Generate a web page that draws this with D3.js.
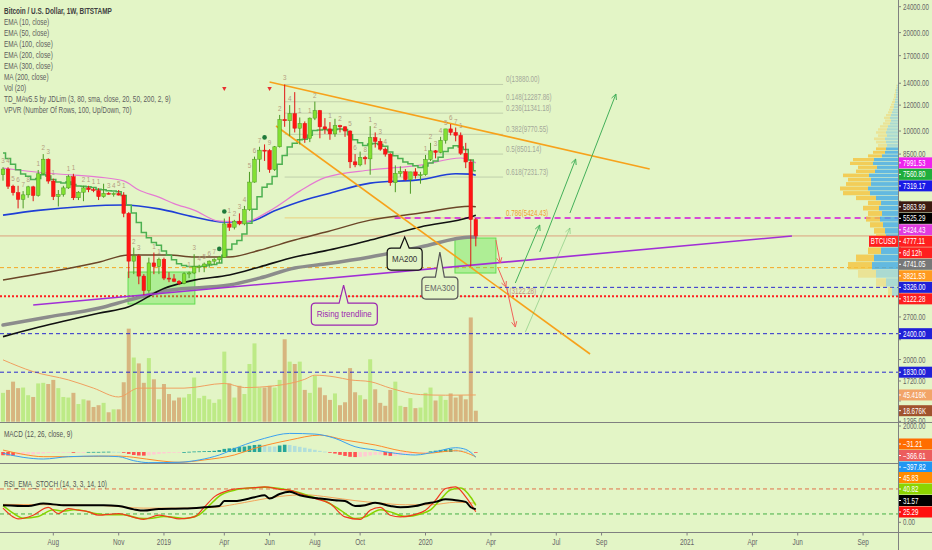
<!DOCTYPE html>
<html lang="en">
<head>
<meta charset="UTF-8">
<title>BTCUSD 1W</title>
<style>
  body { margin: 0; background: #e3f5c6; }
  svg { display: block; font-family: "Liberation Sans", Arial, sans-serif; }
</style>
</head>
<body>
<script src="https://d3js.org/d3.v7.min.js"></script>
<div id="chart"></div>
<script>
// ---- data (weekly candles, first bar = week of 2018-05-28) ----
var weekStart = "2018-05-28";
var opens  = [7350,7650,6780,6480,6180,6380,6750,6350,7400,8200,7030,6300,6400,6700,7250,6250,6500,6700,6620,6580,6300,6450,6420,6440,6370,5600,4000,4150,3600,3250,3950,3850,4050,3550,3530,3470,3420,3660,3680,3850,3860,3920,4000,4040,4110,5200,5080,5300,5200,5750,6980,8200,8740,8720,7620,8950,10850,10750,11300,10200,10550,9500,10950,11550,10300,10150,9800,10380,10300,10000,8050,7880,8300,8220,9550,9300,8800,8500,6950,7420,7510,7100,7500,7300,7350,8180,8700,8600,9370,10150,9900,9700,8550,8040,5360];
var highs  = [7750,7750,6850,6800,6550,6800,6800,7600,8500,8250,7150,6600,6800,7350,7400,6550,6800,6800,6700,6680,6900,6500,6500,6600,6500,5650,4400,4200,3650,4100,4250,4100,4100,3700,3650,3500,3700,3720,4200,3900,3960,4020,4080,4150,5400,5470,5350,5600,5900,7500,8350,8950,9100,8800,9000,11200,13880,12000,13150,11000,10700,11000,12300,11600,10950,10650,10900,10450,10350,10050,8500,8650,8400,10350,9900,9500,8900,8550,7850,7800,7650,7500,7700,7500,8450,9200,8750,9600,10150,10500,10250,9900,9200,8180,5420];
var lows   = [7050,6650,6350,5800,5800,6250,6100,6300,7350,6900,6150,5880,6300,6650,6150,6150,6100,6500,6500,6150,6250,6400,6300,6350,5450,3550,3650,3400,3150,3200,3650,3650,3500,3450,3450,3380,3400,3550,3650,3700,3700,3820,3900,3950,4100,4950,5000,5150,5150,5700,6950,7500,8100,7450,7550,8900,10300,9650,9900,9100,9200,9250,10800,9500,9800,9400,9600,9900,9600,7700,7750,7800,7900,7350,8900,8700,8350,6800,6500,7250,7050,6430,7150,6900,7300,8100,8250,8550,9150,9700,9300,8450,7700,3850,4440];
var closes = [7650,6780,6480,6180,6380,6750,6350,7400,8200,7030,6300,6400,6700,7250,6250,6500,6700,6620,6580,6300,6450,6420,6440,6370,5600,4000,4150,3600,3250,3950,3850,4050,3550,3530,3470,3420,3660,3680,3850,3860,3920,4000,4040,4110,5200,5080,5300,5200,5750,6980,8200,8740,8720,7620,8950,10850,10750,11300,10200,10550,9500,10950,11550,10300,10150,9800,10380,10300,10000,8050,7880,8300,8220,9550,9300,8800,8500,6950,7420,7510,7100,7500,7300,7350,8180,8700,8600,9370,10150,9900,9700,8550,8040,5360,4777.11];
// weekly volume, thousands of BTC
var volumes = [49,54,68,57,58,45,42,65,66,64,71,57,42,41,49,30,38,36,25,28,32,16,21,21,67,158,109,99,66,108,72,38,64,47,36,41,41,47,75,40,44,38,32,38,119,65,41,61,47,98,133,58,58,61,58,71,140,102,98,102,54,49,78,58,45,37,48,28,33,91,50,45,38,106,55,32,27,54,68,27,25,40,23,24,49,58,36,44,37,48,41,45,38,177,18.676];
var volMA = [[0,105],[6,85],[13,71],[18,57],[23,42],[27,57],[36,57],[44,65],[48,58],[54,61],[60,72],[62,79],[66,76],[69,71],[73,68],[77,57],[83,46],[88,45],[94,45.416]];

// moving averages ([week index, price])
var ema10 = [8560,8240,7920,7610,7390,7270,7110,7160,7350,7290,7110,6980,6930,6990,6860,6790,6780,6750,6720,6640,6610,6570,6550,6520,6350,5930,5610,5250,4890,4720,4560,4470,4300,4170,4040,3930,3880,3850,3850,3850,3860,3890,3910,3950,4170,4340,4510,4630,4840,5220,5760,6290,6730,6890,7260,7910,8420,8940,9170,9410,9430,9700,10040,10080,10100,10040,10100,10140,10110,9740,9410,9210,9030,9120,9160,9090,8990,8620,8400,8240,8040,7940,7830,7740,7820,7980,8090,8320,8650,8870,9020,8940,8780,8160,7560.80];
var ema50  = [[0,7700],[3,7600],[11,7390],[19,7230],[24,7040],[27,6600],[31,6280],[34,6000],[38,5730],[43,5300],[48,5270],[53,5700],[59,6550],[64,7200],[73,7600],[83,7870],[91,8270],[94,7991.53]];
var ema100 = [[0,5530],[7,5720],[16,5880],[24,5940],[31,5780],[38,5460],[44,5270],[49,5290],[54,5700],[60,6150],[65,6450],[73,6930],[83,7100],[90,7400],[93,7380],[94,7319.17]];
var ema200 = [[0,3500],[11,3750],[19,3970],[25,4180],[33,4180],[38,4120],[45,4120],[51,4320],[58,4640],[64,4900],[73,5340],[83,5610],[93,5890],[94,5863.99]];
var ma200  = [[0,2350],[7,2510],[19,2770],[25,2900],[32,3300],[38,3500],[45,3630],[51,3840],[58,4120],[64,4300],[73,4640],[83,5090],[93,5460],[94,5525.29]];
var ema300 = [[0,2550],[9,2700],[19,2870],[25,3040],[33,3260],[45,3380],[51,3550],[58,3810],[64,3920],[73,4120],[83,4420],[93,4740],[94,4741.05]];

// MACD pane
var macdLine = [[0,-100],[4,-410],[8,-540],[13,-360],[19,-310],[23,-360],[26,-670],[29,-820],[35,-790],[39,-610],[43,-230],[47,410],[52,1050],[57,1430],[62,1380],[66,1050],[70,410],[74,150],[78,-100],[82,-230],[86,25],[90,330],[92,200],[94,-397.82]];
var macdSignal = [[0,150],[4,-180],[8,-360],[13,-360],[23,-310],[26,-410],[31,-670],[35,-790],[40,-610],[46,-230],[50,280],[57,920],[63,1300],[68,920],[74,540],[79,100],[84,-100],[90,100],[94,-366.61]];
var macdHist = [-250,-270,-280,-260,-230,-200,-190,-150,-120,-80,-60,-40,-20,-10,-20,-15,-10,5,10,10,20,25,20,10,-40,-150,-230,-270,-280,-260,-200,-150,-110,-80,-50,-20,0,20,40,50,60,70,90,150,240,280,320,380,420,480,540,560,520,430,420,500,560,540,470,400,330,250,170,90,30,-20,-120,-220,-300,-370,-390,-380,-340,-270,-220,-210,-250,-300,-290,-250,-200,-160,-120,-60,-10,50,100,160,210,230,220,170,100,30,-31.21];

// RSI / stochastic pane
var rsiLine = [[0,41],[5,39],[8,45],[12,41],[20,41],[23,39],[26,31],[28,28],[31,32],[36,33],[40,36],[43,39],[44,51],[46,51],[50,60],[52,65],[53,57],[55,68],[57,73],[59,65],[61,60],[63,57],[66,53],[68,51],[70,39],[72,41],[74,47],[77,39],[79,36],[82,39],[84,45],[86,49],[88,55],[90,53],[92,49],[93,36],[94,31.57]];
var rsiEma = [[0,43],[10,42],[20,40],[28,34],[36,34],[42,36],[46,43],[50,52],[55,62],[60,66],[65,60],[70,52],[75,46],[80,42],[85,42],[90,48],[94,45.83]];
var stochK = [[0,34],[2,13],[3,8],[6,17],[9,36],[11,21],[13,33],[15,29],[17,25],[19,17],[23,21],[26,12],[28,7],[31,17],[33,13],[35,8],[38,13],[40,36],[42,61],[45,77],[47,81],[50,83],[52,85],[55,79],[57,77],[59,69],[62,57],[65,45],[68,13],[71,7],[73,29],[75,36],[77,17],[79,13],[82,19],[84,29],[86,53],[88,81],[90,85],[92,61],[94,25.29]];
var stochD = [[0,40],[2,22],[4,10],[7,14],[10,30],[12,27],[14,30],[16,28],[18,22],[21,18],[24,18],[27,10],[29,9],[32,14],[34,12],[36,9],[39,18],[41,40],[43,63],[46,77],[49,82],[52,84],[55,81],[58,74],[61,63],[64,51],[67,30],[70,9],[72,13],[75,30],[77,25],[80,14],[83,20],[85,30],[87,55],[89,78],[91,82],[93,60],[94,40.82]];

// volume profile (50 rows, 3122.28 .. 13880), up / down volume
var vpUp   = [6,12,22,26,24,17,13,12,13,15,18,16,19,17,22,28,30,27,27,29,23,21,25,24,16,13,12,11,12,13,11,12,11,10,8,7,8,7,6,5,4,4,3,3,2,2,2,2,1,1];
var vpDown = [4,10,18,24,18,13,12,10,11,13,14,14,16,13,20,27,28,25,23,26,19,19,23,21,14,12,10,9,10,11,9,10,9,8,7,6,6,5,4,4,4,3,3,2,2,2,1,1,1,1];

// drawings
var fibLabels = ["0", "0.148", "0.236", "0.382", "0.5", "0.618", "0.786", "1"];
var fibPrices = [13880.00, 12287.86, 11341.18, 9770.55, 8501.14, 7231.73, 5424.43, 3122.28];
var fibSpan = ["2019-06-24", "2020-04-23"];
var levelPrices = [3821.53, 3122.28, 2400.00, 1830.00, 3326.00, 5424.43];
var levelStarts = [null, null, null, null, "2020-03-08", "2019-11-24"];
var trendUpper = [["2019-06-03", 14120], ["2020-11-13", 7650]];
var trendLower = [["2019-06-12", 10360], ["2020-08-22", 2080]];
var trendRising = [["2018-07-09", 2937], ["2021-05-30", 4774]];
var zones = [[["2018-11-18", 3705], ["2019-02-19", 2957]], [["2020-02-16", 4707], ["2020-04-13", 3679]]];
var arrowsRed = [[["2020-04-13", 4641], ["2020-04-19", 3947]], [["2020-04-16", 3810], ["2020-04-27", 3333]], [["2020-04-28", 3310], ["2020-05-10", 2515]]];
var arrowsGreen = [[["2020-05-10", 3430], ["2020-06-13", 5158]], [["2020-06-13", 4270], ["2020-08-02", 8210]], [["2020-07-25", 5613], ["2020-09-27", 12977]]];
var arrowFaint = [["2020-05-24", 2428], ["2020-07-25", 5050]];
var calloutText = ["MA200", "EMA300", "Rising trendline"];
var calloutTip = [["2019-12-08", 4740], ["2020-01-26", 4265], ["2019-09-14", 3380]];
var calloutBox = [["2019-12-08", 4060], ["2020-01-26", 3310], ["2019-09-15", 2756]];
var tdCounts = [[0,"3"],[1,"4"],[2,"5"],[3,"6"],[4,"7"],[5,"8"],[7,"1"],[8,"2"],[9,"3"],[10,"1"],[13,"1"],[14,"1"],[16,"2"],[17,"1"],[18,"1"],[19,"1"],[21,"3"],[22,"4"],[23,"5"],[24,"1"],[26,"2"],[27,"3"],[30,"1"],[31,"1"],[37,"1"],[38,"3"],[39,"4"],[40,"5"],[41,"6"],[42,"7"],[45,"1"],[46,"2"],[47,"3"],[48,"4"],[49,"5"],[50,"6"],[51,"7"],[53,"9"],[55,"2"],[56,"3"],[57,"4"],[59,"1"],[61,"1"],[62,"2"],[65,"1"],[67,"2"],[69,"5"],[70,"6"],[72,"8"],[73,"1"],[74,"2"],[75,"3"],[76,"4"],[84,"1"],[85,"2"],[86,"3"],[87,"4"],[88,"5"],[89,"6"],[90,"7"],[91,"1"]];
var tdDots = [43, 44, 52];
var tdArrows = [44, 53];

// axes
var priceTicks = [24000,20000,17000,14000,12000,10000,8500,7200,6100,5200,4400,3700,3200,2700,2300,2000,1720,1495,1295];
var timeTickDates = ["2018-08-06","2018-11-05","2019-01-07","2019-04-01","2019-06-03","2019-08-05","2019-10-07","2020-01-06","2020-04-06","2020-07-06","2020-09-07","2021-01-04","2021-04-05","2021-06-07","2021-09-06"];
var timeTickLabels = ["Aug","Nov","2019","Apr","Jun","Aug","Oct","2020","Apr","Jul","Sep","2021","Apr","Jun","Sep"];
var legendLines = ["Bitcoin / U.S. Dollar, 1W, BITSTAMP","EMA (10, close)","EMA (50, close)","EMA (100, close)","EMA (200, close)","EMA (300, close)","MA (200, close)","Vol (20)","TD_MAv5.5 by JDLim (3, 80, sma, close, 20, 50, 200, 2, 9)","VPVR (Number Of Rows, 100, Up/Down, 70)"];

// ---- layout ----
var W = 932, H = 550, axisX = 898;
var bg = "#e3f5c6";
var squeeze = 0.73;   // the chart's UI font is a narrow face
var fmt = d3.format(".2f");
var last = function(a){ var v = a[a.length-1]; return Array.isArray(v) ? v[1] : v; };

var x = d3.scaleUtc().domain([new Date("2018-08-06"), new Date("2021-09-06")]).range([53.3, 863.1]);
var y = d3.scaleLog().domain([1295, 24000]).range([421.3, 6.7]);
var yVol = d3.scaleLinear().domain([0, 180]).range([421.7, 315.7]);
var yMacd = d3.scaleLinear().domain([-846, 2308]).range([463, 422]);
var yRsi = d3.scaleLinear().domain([0, 100]).range([522.3, 480.6]);
var dAt = function(i){ return d3.utcDay.offset(new Date(weekStart), 7*i); };
var xi = function(i){ return x(dAt(i)); };
var xd = function(s){ return x(new Date(s)); };

// narrow text helper
function txt(g, tx, ty, str, size, color, anchor, sx) {
  return g.append("text")
    .attr("transform", "translate(" + tx + "," + ty + ") scale(" + (sx || squeeze) + ",1)")
    .attr("font-size", size).attr("fill", color).attr("text-anchor", anchor || "start").text(str);
}

var svg = d3.select("#chart").append("svg").attr("width", W).attr("height", H);
svg.append("rect").attr("width", W).attr("height", H).attr("fill", bg);
var defs = svg.append("defs");
defs.append("clipPath").attr("id", "cMain").append("rect").attr("width", axisX).attr("height", 422);
defs.append("clipPath").attr("id", "cMainAxis").append("rect").attr("x", axisX).attr("width", W - axisX).attr("height", 422);
defs.append("clipPath").attr("id", "cMacd").append("rect").attr("y", 422.5).attr("width", axisX).attr("height", 41);
defs.append("clipPath").attr("id", "cRsi").append("rect").attr("y", 463.5).attr("width", axisX).attr("height", 69);

var gMain = svg.append("g").attr("clip-path", "url(#cMain)");

var levelStyles = [
  {c:"#f5a623", w:1, d:"4,3"},
  {c:"#ff1f1f", w:2, d:"2,2"},
  {c:"#2b2bd0", w:1, d:"4,3"},
  {c:"#2b2bd0", w:1, d:"4,3"},
  {c:"#2b2bd0", w:1, d:"4,3"},
  {c:"#d64ad6", w:2, d:"6,4"}
];

// fib retracement
fibPrices.forEach(function(p, k){
  gMain.append("line").attr("x1", xi(56)).attr("x2", xd(fibSpan[1]))
    .attr("y1", y(p)).attr("y2", y(p))
    .attr("stroke", k == 6 ? "rgba(245,160,40,0.45)" : "rgba(130,140,120,0.35)").attr("stroke-width", 1);
  txt(gMain, xd(fibSpan[1]) + 3, y(p) - 2, fibLabels[k] + "(" + fmt(p) + ")", 8.5,
    k == 6 ? "#f0a030" : (k == 7 ? "#c09080" : "#a4a89a"));
});

// volume bars + MA
gMain.selectAll(".vol").data(volumes).enter().append("rect")
  .attr("x", function(d,i){ return xi(i) - 2; })
  .attr("y", function(d){ return yVol(d); })
  .attr("width", 4)
  .attr("height", function(d){ return yVol(0) - yVol(d); })
  .attr("fill", function(d,i){ return closes[i] >= opens[i] ? "#bdea86" : "#d7b57f"; });
gMain.append("path").datum(volMA)
  .attr("d", d3.line().x(function(d){ return xi(d[0]); }).y(function(d){ return yVol(d[1]); }).curve(d3.curveMonotoneX))
  .attr("fill", "none").attr("stroke", "#f0a060").attr("stroke-width", 1);

levelPrices.forEach(function(p, k){
  var s = levelStyles[k];
  gMain.append("line").attr("x1", levelStarts[k] ? xd(levelStarts[k]) : 0).attr("x2", axisX)
    .attr("y1", y(p)).attr("y2", y(p))
    .attr("stroke", s.c).attr("stroke-width", s.w).attr("stroke-dasharray", s.d);
});
gMain.append("line").attr("x1", 0).attr("x2", axisX)
  .attr("y1", y(last(closes))).attr("y2", y(last(closes)))
  .attr("stroke", "#dca27e").attr("stroke-width", 1);

// zones
zones.forEach(function(z){
  var x0 = xd(z[0][0]), x1 = xd(z[1][0]), y0 = y(z[0][1]), y1 = y(z[1][1]);
  gMain.append("rect").attr("x", x0).attr("y", y0).attr("width", x1 - x0).attr("height", y1 - y0)
    .attr("fill", "rgba(90,225,70,0.38)").attr("stroke", "#62dc50").attr("stroke-width", 1);
});

// volume profile
var vpStep = (13880 - 3122.28) / vpUp.length;
var vpTot = vpUp.map(function(u,k){ return u + vpDown[k]; });
var vpW = d3.scaleLinear().domain([0, d3.max(vpTot)]).range([0, 58]);
var poc = vpTot.indexOf(d3.max(vpTot)), vaLo = poc, vaHi = poc, vaSum = vpTot[poc], allSum = d3.sum(vpTot);
while (vaSum < 0.7 * allSum) {
  var up = vaHi + 1 < vpTot.length ? vpTot[vaHi+1] : -1, dn = vaLo - 1 >= 0 ? vpTot[vaLo-1] : -1;
  if (up >= dn) { vaHi++; vaSum += up; } else { vaLo--; vaSum += dn; }
}
vpUp.forEach(function(u, k){
  var lo = 3122.28 + k * vpStep, hi = lo + vpStep;
  var y0 = y(hi) + 0.3, h = Math.max(0.6, y(lo) - y(hi) - 0.6);
  var inVa = k >= vaLo && k <= vaHi;
  gMain.append("rect").attr("x", axisX - vpW(u)).attr("y", y0).attr("width", vpW(u)).attr("height", h)
    .attr("fill", inVa ? "rgba(66,170,230,0.8)" : "rgba(66,170,230,0.35)");
  gMain.append("rect").attr("x", axisX - vpW(u) - vpW(vpDown[k])).attr("y", y0).attr("width", vpW(vpDown[k])).attr("height", h)
    .attr("fill", inVa ? "rgba(245,195,60,0.8)" : "rgba(245,195,60,0.35)");
});

// moving averages
var pairLine = d3.line().x(function(d){ return xi(d[0]); }).y(function(d){ return y(d[1]); }).curve(d3.curveMonotoneX);
gMain.append("path").datum(ema300).attr("d", pairLine).attr("fill", "none").attr("stroke", "#8c8c8c").attr("stroke-width", 3.5).attr("stroke-linecap", "round");
gMain.append("path").datum(ma200).attr("d", pairLine).attr("fill", "none").attr("stroke", "#111").attr("stroke-width", 1.6);
gMain.append("path").datum(ema200).attr("d", pairLine).attr("fill", "none").attr("stroke", "#6b4628").attr("stroke-width", 1.5);
gMain.append("path").datum(ema100).attr("d", pairLine).attr("fill", "none").attr("stroke", "#1f3fd6").attr("stroke-width", 1.6);
gMain.append("path").datum(ema50).attr("d", pairLine).attr("fill", "none").attr("stroke", "#e57ad2").attr("stroke-width", 1.2);
gMain.append("path").datum(ema10)
  .attr("d", d3.line().x(function(d,i){ return xi(i); }).y(function(d){ return y(d); }).curve(d3.curveStep))
  .attr("fill", "none").attr("stroke", "#4cb050").attr("stroke-width", 1.5);

// trend lines
function seg(pts, color, w) {
  gMain.append("line").attr("x1", xd(pts[0][0])).attr("y1", y(pts[0][1]))
    .attr("x2", xd(pts[1][0])).attr("y2", y(pts[1][1]))
    .attr("stroke", color).attr("stroke-width", w);
}
seg(trendUpper, "#f7a21b", 1.6);
seg(trendLower, "#f7a21b", 1.6);
seg(trendRising, "#a12fd6", 1.6);

// candles
var cg = gMain.append("g");
closes.forEach(function(c, i){
  var o = opens[i], upBar = c >= o, cx = xi(i);
  cg.append("line").attr("x1", cx).attr("x2", cx).attr("y1", y(highs[i])).attr("y2", y(lows[i]))
    .attr("stroke", upBar ? "#4b9a22" : "#e01515").attr("stroke-width", 1);
  var top = y(Math.max(o, c)), bot = y(Math.min(o, c));
  cg.append("rect").attr("x", cx - 1.8).attr("y", top).attr("width", 3.6).attr("height", Math.max(1, bot - top))
    .attr("fill", upBar ? "#82e032" : "#ff1414").attr("stroke", upBar ? "#4b9a22" : "#e01515").attr("stroke-width", 0.5);
});

// TD counts and markers
tdCounts.forEach(function(t){
  txt(gMain, xi(t[0]), y(highs[t[0]]) - 4, t[1], 7, "#b39c80", "middle", 0.9);
});
tdDots.forEach(function(i){
  gMain.append("circle").attr("cx", xi(i)).attr("cy", y(highs[i]) - 7).attr("r", 2.3).attr("fill", "#1f7a3a");
});
tdArrows.forEach(function(i){
  var cx = xi(i), cy = y(13440);
  gMain.append("path").attr("d", "M" + (cx-2.2) + "," + (cy-2) + "L" + (cx+2.2) + "," + (cy-2) + "L" + cx + "," + (cy+2) + "Z").attr("fill", "#e83030");
});

// arrows
function arrow(pts, color, w) {
  var x0 = xd(pts[0][0]), y0 = y(pts[0][1]), x1 = xd(pts[1][0]), y1 = y(pts[1][1]);
  gMain.append("line").attr("x1", x0).attr("y1", y0).attr("x2", x1).attr("y2", y1).attr("stroke", color).attr("stroke-width", w);
  var a = Math.atan2(y1 - y0, x1 - x0);
  [a + Math.PI - 0.45, a + Math.PI + 0.45].forEach(function(b){
    gMain.append("line").attr("x1", x1).attr("y1", y1).attr("x2", x1 + 6 * Math.cos(b)).attr("y2", y1 + 6 * Math.sin(b))
      .attr("stroke", color).attr("stroke-width", w);
  });
}
arrowsRed.forEach(function(p){ arrow(p, "#f0625a", 1); });
arrowsGreen.forEach(function(p){ arrow(p, "#44b05a", 1); });
arrow(arrowFaint, "rgba(80,180,90,0.55)", 0.8);

// callouts
var calloutStyle = [{w:35, stroke:"#111", fill:"#333"}, {w:36, stroke:"#555", fill:"#666"}, {w:66, stroke:"#9c27b0", fill:"#9c27b0"}];
calloutText.forEach(function(t, k){
  var s = calloutStyle[k], tx = xd(calloutTip[k][0]), ty = y(calloutTip[k][1]);
  var cx = xd(calloutBox[k][0]), cy = y(calloutBox[k][1]), bw = s.w, bh = 22, r = 4;
  var bx = cx - bw/2, by = cy - bh/2;
  var p = "M" + (bx + r) + "," + by + "L" + (tx - 4.5) + "," + by + "L" + tx + "," + ty + "L" + (tx + 4.5) + "," + by +
    "L" + (bx + bw - r) + "," + by + "Q" + (bx + bw) + "," + by + " " + (bx + bw) + "," + (by + r) +
    "L" + (bx + bw) + "," + (by + bh - r) + "Q" + (bx + bw) + "," + (by + bh) + " " + (bx + bw - r) + "," + (by + bh) +
    "L" + (bx + r) + "," + (by + bh) + "Q" + bx + "," + (by + bh) + " " + bx + "," + (by + bh - r) +
    "L" + bx + "," + (by + r) + "Q" + bx + "," + by + " " + (bx + r) + "," + by + "Z";
  gMain.append("path").attr("d", p).attr("fill", bg).attr("stroke", s.stroke).attr("stroke-width", 1.2);
  txt(gMain, cx, cy + 3.3, t, 9.5, s.fill, "middle", 0.84);
});

// legend
legendLines.forEach(function(t, k){
  txt(svg, 4, 13.7 + 11 * k, t, 8.8, k == 0 ? "#404040" : "#5e5e5e")
    .attr("font-weight", k == 0 ? "bold" : null);
});

// ---- MACD pane ----
var gMacd = svg.append("g").attr("clip-path", "url(#cMacd)");
gMacd.selectAll("rect").data(macdHist).enter().append("rect")
  .attr("x", function(d,i){ return xi(i) - 1.8; })
  .attr("y", function(d){ return Math.min(yMacd(d), yMacd(0)); })
  .attr("width", 3.6)
  .attr("height", function(d){ return Math.max(0.8, Math.abs(yMacd(d) - yMacd(0))); })
  .attr("fill", function(d,i){
    var prev = i > 0 ? macdHist[i-1] : d;
    if (d >= 0) return d >= prev ? "#26a69a" : "#b2dfdb";
    return d <= prev ? "#ff5252" : "#ffcdd2";
  });
var macdPath = d3.line().x(function(d){ return xi(d[0]); }).y(function(d){ return yMacd(d[1]); }).curve(d3.curveMonotoneX);
gMacd.append("path").datum(macdSignal).attr("d", macdPath).attr("fill", "none").attr("stroke", "#ff8a2a").attr("stroke-width", 1);
gMacd.append("path").datum(macdLine).attr("d", macdPath).attr("fill", "none").attr("stroke", "#3aa0f0").attr("stroke-width", 1);
txt(svg, 4, 437, "MACD (12, 26, close, 9)", 8.8, "#555");

// ---- RSI pane ----
var gRsi = svg.append("g").attr("clip-path", "url(#cRsi)");
gRsi.append("line").attr("x1", 0).attr("x2", axisX).attr("y1", yRsi(80)).attr("y2", yRsi(80)).attr("stroke", "#e0704a").attr("stroke-dasharray", "4,3");
gRsi.append("line").attr("x1", 0).attr("x2", axisX).attr("y1", yRsi(20)).attr("y2", yRsi(20)).attr("stroke", "#45b045").attr("stroke-dasharray", "4,3");
var rsiPath = d3.line().x(function(d){ return xi(d[0]); }).y(function(d){ return yRsi(d[1]); }).curve(d3.curveMonotoneX);
gRsi.append("path").datum(rsiEma).attr("d", rsiPath).attr("fill", "none").attr("stroke", "#f3a35a").attr("stroke-width", 1);
gRsi.append("path").datum(stochD).attr("d", rsiPath).attr("fill", "none").attr("stroke", "#86d400").attr("stroke-width", 1.5);
gRsi.append("path").datum(stochK).attr("d", rsiPath).attr("fill", "none").attr("stroke", "#f03a1e").attr("stroke-width", 1.2);
gRsi.append("path").datum(rsiLine).attr("d", rsiPath).attr("fill", "none").attr("stroke", "#000").attr("stroke-width", 2);
txt(svg, 4, 487, "RSI_EMA_STOCH (14, 3, 3, 14, 10)", 8.8, "#555");

// ---- frame ----
[422.5, 463.5, 532.5].forEach(function(v){
  svg.append("line").attr("x1", 0).attr("x2", W).attr("y1", v).attr("y2", v).attr("stroke", "#808080").attr("stroke-width", 1);
});
svg.append("line").attr("x1", axisX + 0.5).attr("x2", axisX + 0.5).attr("y1", 0).attr("y2", H).attr("stroke", "#808080");

// axis value labels (stacked so they don't overlap)
function stack(items, maxY) {
  var h = 11.5;
  items.sort(function(a, b){ return a.y0 - b.y0; });
  items.forEach(function(it, k){ it.y = k == 0 ? it.y0 : Math.max(it.y0, items[k-1].y + h); });
  var n = items.length;
  if (n && items[n-1].y > maxY) {
    items[n-1].y = maxY;
    for (var k = n - 2; k >= 0; k--) if (items[k].y > items[k+1].y - h) items[k].y = items[k+1].y - h;
  }
  return items;
}
var lastClose = last(closes);
var mainLabels = stack([
  {y0: y(last(ema50)), text: fmt(last(ema50)), bg: "#ee22ee"},
  {y0: y(last(ema10)), text: fmt(last(ema10)), bg: "#1fae3c"},
  {y0: y(last(ema100)), text: fmt(last(ema100)), bg: "#1a1ae6"},
  {y0: y(last(ema200)), text: fmt(last(ema200)), bg: "#3b1a10"},
  {y0: y(last(ma200)), text: fmt(last(ma200)), bg: "#000"},
  {y0: y(levelPrices[5]), text: fmt(levelPrices[5]), bg: "#e03ce0"},
  {y0: y(lastClose), text: fmt(lastClose), bg: "#ff1f1f", pre: "BTCUSD"},
  {y0: y(lastClose) + 0.01, text: "6d 12h", bg: "#ff1f1f"},
  {y0: y(last(ema300)), text: fmt(last(ema300)), bg: "#777"},
  {y0: y(levelPrices[0]), text: fmt(levelPrices[0]), bg: "#ff9a1f"},
  {y0: y(levelPrices[4]), text: fmt(levelPrices[4]), bg: "#2020d8"},
  {y0: y(levelPrices[1]), text: fmt(levelPrices[1]), bg: "#ff1f1f"},
  {y0: y(levelPrices[2]), text: fmt(levelPrices[2]), bg: "#2020d8"},
  {y0: y(levelPrices[3]), text: fmt(levelPrices[3]), bg: "#2020d8"},
  {y0: yVol(last(volMA)), text: d3.format(".3f")(last(volMA)) + "K", bg: "#f2a468"},
  {y0: yVol(last(volumes)), text: d3.format(".3f")(last(volumes)) + "K", bg: "#a0522d"}
], 1000);
var macdLabels = stack([
  {y0: yMacd(last(macdHist)), text: fmt(last(macdHist)), bg: "#ff6d00"},
  {y0: yMacd(last(macdSignal)), text: fmt(last(macdSignal)), bg: "#ec5d5d"},
  {y0: yMacd(last(macdLine)), text: fmt(last(macdLine)), bg: "#2196f3"}
], 467);
var rsiLabels = stack([
  {y0: yRsi(last(rsiEma)), text: fmt(last(rsiEma)), bg: "#ff8c00"},
  {y0: yRsi(last(stochD)), text: fmt(last(stochD)), bg: "#8cd400"},
  {y0: yRsi(last(rsiLine)), text: fmt(last(rsiLine)), bg: "#000"},
  {y0: yRsi(last(stochK)), text: fmt(last(stochK)), bg: "#ff1010"}
], 512);
var labelYs = mainLabels.concat(macdLabels, rsiLabels).map(function(l){ return l.y; });
var covered = function(v){ return labelYs.some(function(l){ return Math.abs(l - v) < 6.5; }); };

// price axis ticks (a tick hidden under a value label is skipped; the pane edge clips the lowest one)
var gPriceAxis = svg.append("g").attr("clip-path", "url(#cMainAxis)");
priceTicks.forEach(function(p){
  gPriceAxis.append("line").attr("x1", axisX).attr("x2", axisX + 3).attr("y1", y(p)).attr("y2", y(p)).attr("stroke", "#808080");
  if (!covered(y(p))) txt(gPriceAxis, axisX + 5, y(p) + 3, fmt(p), 8.5, "#666");
});
[[yMacd(2000), "2000.00"], [yRsi(0), "0.00"]].forEach(function(t){
  svg.append("line").attr("x1", axisX).attr("x2", axisX + 3).attr("y1", t[0]).attr("y2", t[0]).attr("stroke", "#808080");
  if (!covered(t[0])) txt(svg, axisX + 5, t[0] + 3, t[1], 8.5, "#666");
});

// time axis
timeTickDates.forEach(function(s, k){
  svg.append("line").attr("x1", xd(s)).attr("x2", xd(s)).attr("y1", 532.5).attr("y2", 535.5).attr("stroke", "#808080");
  txt(svg, xd(s), 545, timeTickLabels[k], 8.8, "#666", "middle");
});

function drawLabels(items) {
  items.forEach(function(it){
    if (it.pre) {
      svg.append("rect").attr("x", axisX - 29).attr("y", it.y - 5.5).attr("width", 29).attr("height", 11).attr("fill", it.bg);
      txt(svg, axisX - 14.5, it.y + 3, it.pre, 8.5, "#fff", "middle");
    }
    svg.append("rect").attr("x", axisX + 1).attr("y", it.y - 5.5).attr("width", W - axisX).attr("height", 11).attr("fill", it.bg);
    svg.append("line").attr("x1", axisX + 1).attr("x2", axisX + 3).attr("y1", it.y).attr("y2", it.y).attr("stroke", "#fff");
    txt(svg, axisX + 5, it.y + 3, it.text, 8.5, "#fff");
  });
}
drawLabels(mainLabels);
drawLabels(macdLabels);
drawLabels(rsiLabels);
</script>
</body>
</html>
